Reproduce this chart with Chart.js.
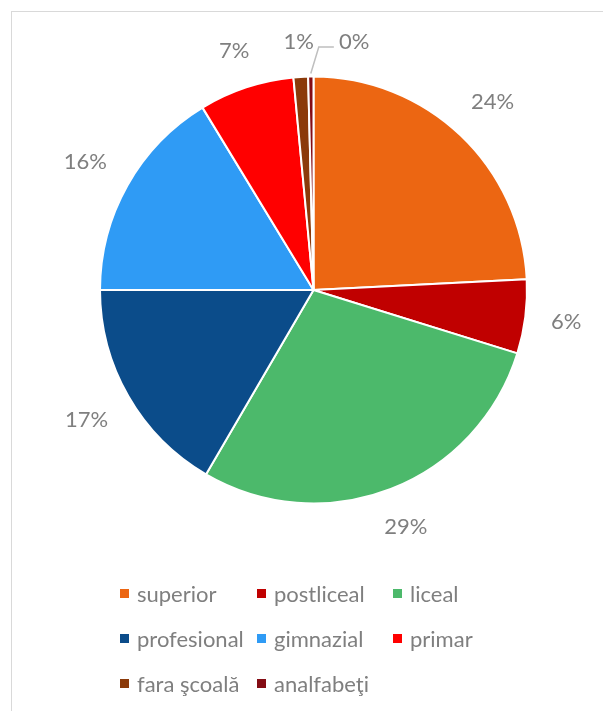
<!DOCTYPE html>
<html>

<head>
  <title>Nivel de educatie</title>
  <style>
    body { margin: 0; width: 603px; height: 711px; overflow: hidden; background: #fff; position: relative; font-family: Lato, "Open Sans", sans-serif; }
    #frame { position: absolute; left: 11px; top: 11px; width: 640px; height: 740px; border: 1px solid #d9d9d9; }
    #chart { position: absolute; left: 0; top: 0; }
    #legend { position: absolute; left: 120px; top: 571px; display: grid; grid-template-columns: 137px 136px 136px; grid-auto-rows: 45px; }
    .item { display: flex; align-items: center; font-size: 22px; color: #7f7f7f; white-space: nowrap; }
    .box { width: 9px; height: 9px; margin-right: 8px; flex: none; }
  </style>
</head>

<body>
  <div id="frame"></div>
  <canvas id="chart" width="603" height="711"></canvas>
  <div id="legend"></div>
  <script src="https://cdn.jsdelivr.net/npm/chart.js"></script>
  <script>
    const categories = ['superior', 'postliceal', 'liceal', 'profesional', 'gimnazial', 'primar', 'fara şcoală', 'analfabeţi'];
    const shares = [24.2, 5.6, 28.6, 16.6, 16.3, 7.2, 1.1, 0.4];
    const colors = ['#ec6612', '#c00000', '#4cb96b', '#0b4c8a', '#2f9bf5', '#ff0000', '#8b3a0a', '#840c14'];

    // percent labels outside the slices, like Excel's "outside end"
    const pieLabels = {
      id: 'pieLabels',
      afterDatasetsDraw(chart) {
        const ctx = chart.ctx;
        const meta = chart.getDatasetMeta(0);
        const total = shares.reduce((a, b) => a + b, 0);
        ctx.save();
        ctx.font = '22px Lato';
        ctx.fillStyle = '#7f7f7f';
        ctx.textAlign = 'center';
        ctx.textBaseline = 'middle';
        let prev = null;
        meta.data.forEach((arc, i) => {
          const { x, y, startAngle, endAngle, outerRadius } =
            arc.getProps(['x', 'y', 'startAngle', 'endAngle', 'outerRadius'], true);
          const mid = (startAngle + endAngle) / 2;
          const dx = Math.cos(mid), dy = Math.sin(mid);
          const text = Math.round(shares[i] / total * 100) + '%';
          const w = ctx.measureText(text).width, h = 18;
          const d = outerRadius + 25 + Math.abs(dx) * w / 2 + Math.abs(dy) * h / 2;
          let cx = x + dx * d, cy = y + dy * d;
          if (prev && cx - w / 2 < prev.r && cx + w / 2 > prev.l && cy - h / 2 < prev.b && cy + h / 2 > prev.t) {
            const left = prev.r + 25;
            cx = left + w / 2;
            cy = prev.cy;
            const ax = x + dx * (outerRadius + 3), ay = y + dy * (outerRadius + 3);
            ctx.strokeStyle = '#bfbfbf';
            ctx.lineWidth = 1.5;
            ctx.beginPath();
            ctx.moveTo(ax, ay);
            ctx.lineTo(ax + 8, cy + 5);
            ctx.lineTo(left - 5, cy + 5);
            ctx.stroke();
          }
          ctx.fillText(text, cx, cy);
          prev = { l: cx - w / 2, r: cx + w / 2, t: cy - h / 2, b: cy + h / 2, cy: cy };
        });
        ctx.restore();
      }
    };

    const ctx = document.getElementById('chart').getContext('2d');
    const pie = new Chart(ctx, {
      type: 'pie',
      data: {
        labels: categories,
        datasets: [{
          data: shares,
          backgroundColor: colors,
          borderColor: '#ffffff',
          borderWidth: 2
        }]
      },
      options: {
        responsive: false,
        animation: false,
        layout: { padding: { left: 99, right: 75, top: 75.5, bottom: 206.5 } },
        plugins: {
          legend: { display: false },
          tooltip: { enabled: false }
        }
      },
      plugins: [pieLabels]
    });

    const legend = document.getElementById('legend');
    categories.forEach((name, i) => {
      const item = document.createElement('div');
      item.className = 'item';
      item.innerHTML = `<span class="box" style="background:${colors[i]}"></span><span>${name}</span>`;
      legend.appendChild(item);
    });
  </script>
</body>

</html>
